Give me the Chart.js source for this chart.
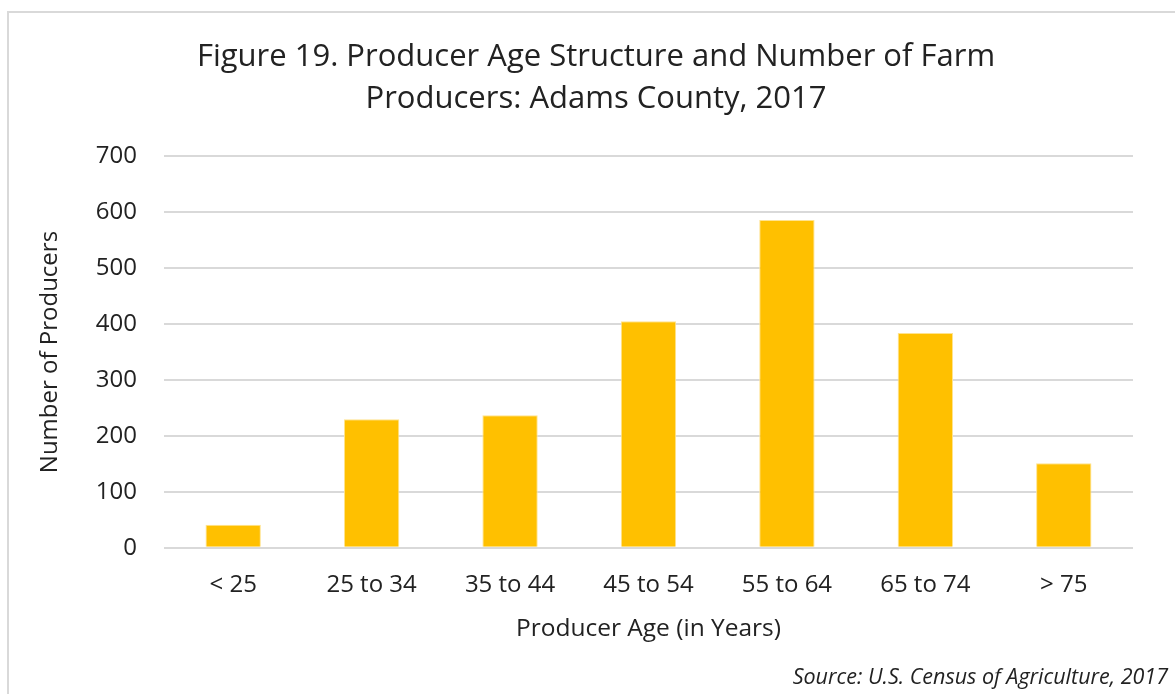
<!DOCTYPE html>
<html>
<head>
<meta charset="utf-8">
<script src="https://cdn.jsdelivr.net/npm/chart.js@4/dist/chart.umd.min.js"></script>
<style>
  body { margin: 0; background: #fff; overflow: hidden; }
  #frame { position: absolute; left: 7px; top: 11px; width: 1200px; height: 720px; border: 2px solid #d9d9d9; }
  #wrap { position: absolute; left: 9px; top: 13px; width: 1166px; height: 681px; }
</style>
</head>
<body>
<div id="frame"></div>
<div id="wrap"><canvas id="chart"></canvas></div>
<script>
const ageGroups = ['< 25', '25 to 34', '35 to 44', '45 to 54', '55 to 64', '65 to 74', '> 75'];
const producers = [41, 230, 237, 405, 586, 384, 151];
const titleLines = ['Figure 19. Producer Age Structure and Number of Farm', 'Producers: Adams County, 2017'];
const sourceNote = 'Source: U.S. Census of Agriculture, 2017';

const FONT = '"Open Sans", sans-serif';
const TEXT = '#222222';

// source line sits at the very bottom right, outside the padded layout
const sourcePlugin = {
    id: 'source',
    afterDraw(chart){
        const c = chart.ctx;
        c.save();
        c.font = 'italic 21.5px ' + FONT;
        c.fillStyle = TEXT;
        c.textAlign = 'right';
        c.textBaseline = 'middle';
        c.fillText(sourceNote, chart.width - 7, chart.height - 16);
        c.restore();
    }
};

function init(){
    const ctx = document.getElementById('chart').getContext('2d');
    new Chart(ctx, {
        type: 'bar',
        data: {
            labels: ageGroups,
            datasets: [{
                label: 'Number of Producers',
                data: producers,
                backgroundColor: '#ffc000',
                borderColor: '#ffe38f',
                borderWidth: 1,
                categoryPercentage: 1,
                barPercentage: 0.4
            }]
        },
        options: {
            responsive: true,
            maintainAspectRatio: false,
            animation: false,
            layout: { padding: { left: 8, right: 0, top: 0, bottom: 50 } },
            plugins: {
                legend: { display: false },
                tooltip: { enabled: false },
                title: {
                    display: true,
                    text: titleLines,
                    color: TEXT,
                    font: { family: FONT, size: 31, weight: 'normal', lineHeight: 1.36 },
                    padding: { top: 23, bottom: 36 }
                }
            },
            scales: {
                x: {
                    grid: { display: false, drawTicks: false },
                    border: { display: false },
                    ticks: { color: TEXT, padding: 23, font: { family: FONT, size: 24 } },
                    title: {
                        display: true,
                        text: 'Producer Age (in Years)',
                        color: TEXT,
                        font: { family: FONT, size: 24.5, lineHeight: 1.2 },
                        padding: { top: -8, bottom: 0 }
                    }
                },
                y: {
                    min: 0,
                    max: 700,
                    grid: { color: '#d9d9d9', lineWidth: 2, drawTicks: false },
                    border: { display: false },
                    ticks: { stepSize: 100, color: TEXT, padding: 27, font: { family: FONT, size: 24 } },
                    title: {
                        display: true,
                        text: 'Number of Producers',
                        color: TEXT,
                        font: { family: FONT, size: 24, lineHeight: 1.2 },
                        padding: { top: 19, bottom: 4 }
                    }
                },
                // empty right gutter so the plot ends where the reference does
                gutter: {
                    type: 'linear',
                    position: 'right',
                    grid: { display: false },
                    border: { display: false },
                    ticks: { display: false },
                    afterFit(scale){ scale.width = 42; }
                }
            }
        },
        plugins: [sourcePlugin]
    });
}
init();
</script>
</body>
</html>
